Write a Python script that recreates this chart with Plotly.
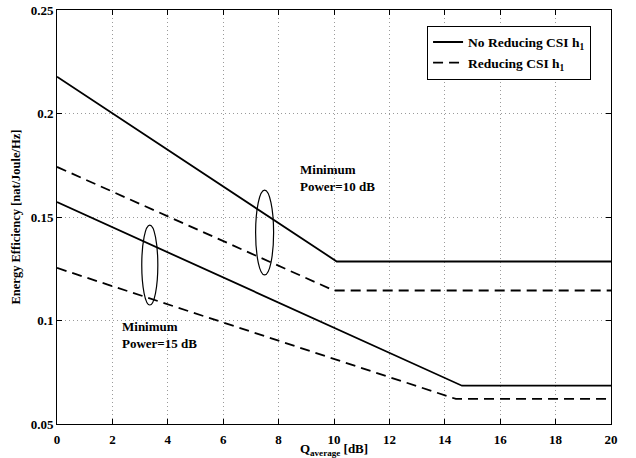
import plotly.graph_objects as go

# Q_average [dB] breakpoints and energy efficiency [nat/Joule/Hz]
q_nored_10 = [0, 10.1, 20]
ee_nored_10 = [0.2178, 0.1285, 0.1285]
q_red_10 = [0, 10.0, 20]
ee_red_10 = [0.1742, 0.1145, 0.1145]

q_nored_15 = [0, 14.62, 20]
ee_nored_15 = [0.1572, 0.0685, 0.0685]
q_red_15 = [0, 14.4, 20]
ee_red_15 = [0.1254, 0.0621, 0.0621]

x_ticks = [0, 2, 4, 6, 8, 10, 12, 14, 16, 18, 20]
y_ticks = [0.05, 0.1, 0.15, 0.2, 0.25]
y_tick_text = ["0.05", "0.1", "0.15", "0.2", "0.25"]

FONT = "Liberation Serif"
LW = 1.8
DASH = "10px,6px"

fig = go.Figure()
fig.add_trace(go.Scatter(x=q_nored_10, y=ee_nored_10, mode="lines",
                         line=dict(color="black", width=LW),
                         name="<b>No Reducing CSI h<sub>1</sub></b>"))
fig.add_trace(go.Scatter(x=q_red_10, y=ee_red_10, mode="lines",
                         line=dict(color="black", width=LW, dash=DASH),
                         name="<b>Reducing CSI h<sub>1</sub></b>"))
fig.add_trace(go.Scatter(x=q_nored_15, y=ee_nored_15, mode="lines",
                         line=dict(color="black", width=LW),
                         showlegend=False))
fig.add_trace(go.Scatter(x=q_red_15, y=ee_red_15, mode="lines",
                         line=dict(color="black", width=LW, dash=DASH),
                         showlegend=False))

# ellipses grouping each pair of curves
fig.add_shape(type="circle", xref="x", yref="y",
              x0=3.06, x1=3.64, y0=0.1075, y1=0.1461,
              line=dict(color="black", width=1.2))
fig.add_shape(type="circle", xref="x", yref="y",
              x0=7.17, x1=7.82, y0=0.122, y1=0.163,
              line=dict(color="black", width=1.2))

fig.add_annotation(x=8.69, y=0.1688, xref="x", yref="y",
                   text="<b>Minimum<br>Power=10 dB</b>", showarrow=False,
                   xanchor="left", yanchor="middle", align="left",
                   font=dict(family=FONT, size=13, color="black"))
fig.add_annotation(x=2.29, y=0.093, xref="x", yref="y",
                   text="<b>Minimum<br>Power=15 dB</b>", showarrow=False,
                   xanchor="left", yanchor="middle", align="left",
                   font=dict(family=FONT, size=13, color="black"))

axis_common = dict(
    showline=True, linecolor="black", linewidth=1, mirror="ticks",
    ticks="inside", ticklen=5, tickcolor="black",
    showgrid=True, gridcolor="#9a9a9a", griddash="1px,3px", gridwidth=1,
    zeroline=False, automargin=False,
    tickfont=dict(family=FONT, size=13, color="black", weight="bold"),
)

fig.update_xaxes(range=[0, 20], tickvals=x_ticks, ticklabelstandoff=3,
                 title=dict(text="<b>Q<sub>average</sub> [dB]</b>", standoff=3,
                            font=dict(family=FONT, size=13, color="black")),
                 **axis_common)
fig.update_yaxes(range=[0.05, 0.25], tickvals=y_ticks, ticktext=y_tick_text,
                 title=dict(text="<b>Energy Efficiency [nat/Joule/Hz]</b>", standoff=7,
                            font=dict(family=FONT, size=12.5, color="black")),
                 **axis_common)

fig.update_layout(
    width=636, height=458,
    margin=dict(l=57, r=25, t=10, b=34),
    paper_bgcolor="white", plot_bgcolor="white",
    font=dict(family=FONT, color="black"),
    legend=dict(x=0.964, y=0.962, xanchor="right", yanchor="top",
                bgcolor="white", bordercolor="black", borderwidth=1,
                font=dict(family=FONT, size=13.5, color="black"),
                tracegroupgap=0),
)

fig.write_html("out.html")
